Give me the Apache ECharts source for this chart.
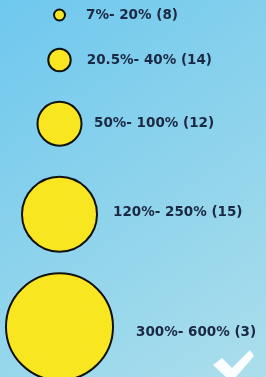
<!DOCTYPE html>
<html><head><meta charset="utf-8">
<script src="https://cdn.jsdelivr.net/npm/echarts@6/dist/echarts.min.js"></script>
<style>html,body{margin:0;padding:0;}#c{width:266px;height:377px;}</style>
</head><body><div id="c"></div>
<script>
// Data
const rangeLabels = ['7%- 20%', '20.5%- 40%', '50%- 100%', '120%- 250%', '300%- 600%'];
const counts = [8, 14, 12, 15, 3];

// Style / layout
const SYMBOL_SIZES = [11, 22.5, 44, 75, 107];
const LABEL_DIST = [20, 15, 11.5, 15, 22];
const LABEL_DY = [0, 0, 0, -2, 6];
const ROW_GAPS = [28.25, 30.5, 31, 21.5];
const TOP_PAD = 9.5;

// compute row centers from stacked bubble sizes
const rowY = [];
let acc = TOP_PAD;
SYMBOL_SIZES.forEach((d, i) => { rowY.push(acc + d / 2); acc += d + (ROW_GAPS[i] || 0); });

const data = rangeLabels.map((r, i) => ({
  value: [0, rowY[i]],
  name: r + ' (' + counts[i] + ')',
  symbolSize: SYMBOL_SIZES[i],
  label: { distance: LABEL_DIST[i], offset: [0, LABEL_DY[i]] }
}));

const chart = echarts.init(document.getElementById('c'), null, {renderer: 'canvas'});
chart.setOption({
  backgroundColor: {
    type: 'linear', x: 0, y: 0, x2: 1, y2: 1,
    colorStops: [{offset: 0, color: '#6ec8ee'}, {offset: 0.5, color: '#8dd3ec'}, {offset: 1, color: '#abdeec'}]
  },
  animation: false,
  grid: {left: 0, right: 0, top: 0, bottom: 0},
  xAxis: {type: 'value', min: -59.5, max: 206.5, show: false},
  yAxis: {type: 'value', min: 0, max: 377, inverse: true, show: false},
  graphic: [{
    type: 'polygon', silent: true,
    shape: {points: [[213, 365], [222, 358], [232, 368], [250, 350], [254, 356], [236, 377], [226, 377]]},
    style: {fill: 'rgba(255,255,255,0.95)'}
  }],
  series: [{
    type: 'scatter',
    data: data,
    symbol: 'circle',
    itemStyle: {color: '#f8e620', borderColor: '#111', borderWidth: 2, opacity: 1},
    label: {
      show: true, position: 'right', formatter: p => p.name,
      color: '#1b2944', fontFamily: 'DejaVu Sans', fontWeight: 'bold', fontSize: 13.5
    }
  }]
});
</script></body></html>
